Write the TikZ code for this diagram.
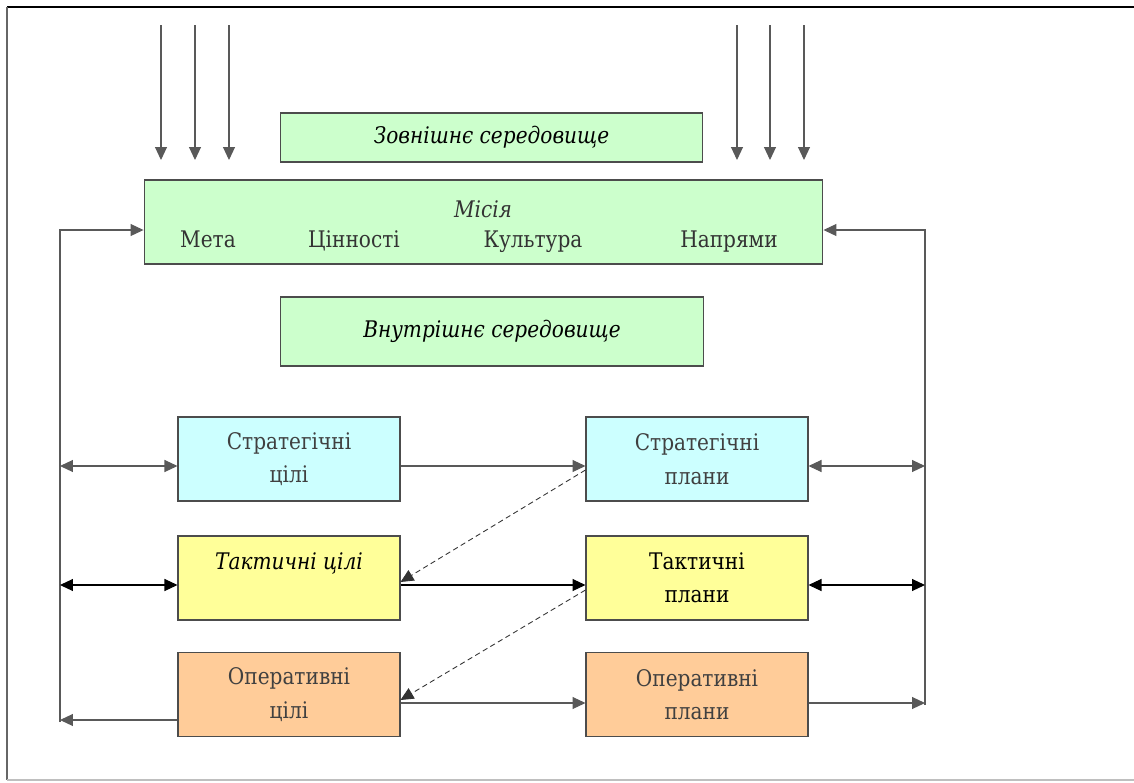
\documentclass[tikz,border=0pt]{standalone}
\usepackage{fontspec}
\setmainfont{DejaVu Serif}[FakeStretch=0.88]
\usetikzlibrary{arrows.meta}
\definecolor{boxgreen}{HTML}{CCFFCC}
\definecolor{boxcyan}{HTML}{CCFFFF}
\definecolor{boxyellow}{HTML}{FFFF99}
\definecolor{boxorange}{HTML}{FFCC99}
\tikzset{
  >={Triangle[length=2.6mm,width=2.4mm]},
  box/.style={draw=black!70, line width=0.6pt, inner sep=0pt, align=center,
    font=\fontsize{13}{19}\selectfont},
  wide/.style={box, minimum width=8.46cm, minimum height=0.98cm},
  goalbox/.style={box, minimum width=4.44cm, minimum height=1.68cm},
  lbl/.style={font=\fontsize{13}{19}\selectfont, inner sep=0pt, anchor=base, text=black!80},
  conn/.style={draw=black!65, line width=0.6pt},
}
\begin{document}
\begin{tikzpicture}[x=0.02cm,y=-0.02cm]
\useasboundingbox (0,0) rectangle (1134,782);

% frame
\draw[black, line width=1.2pt] (7,7) -- (1134,7);
\draw[black!60, line width=0.6pt] (7,7) -- (7,780);
\draw[black!25, line width=0.6pt] (7,780) -- (1134,780);

% boxes
\node[wide, fill=boxgreen] (outer) at (491.5,137.5) {\textit{Зовнішнє середовище}};
\node[box, fill=boxgreen, minimum width=13.58cm, minimum height=1.68cm] (mission) at (483.5,222) {};
\node[wide, fill=boxgreen, minimum height=1.38cm] (inner) at (492,331.5) {\textit{Внутрішнє середовище}};

\node[lbl] (misia) at (483,217) {\textit{Місія}};
\node[lbl] (meta) at (208,247) {Мета};
\node[lbl] (cinn) at (354,247) {Цінності};
\node[lbl] (kult) at (533,247) {Культура};
\node[lbl] (napr) at (729,247) {Напрями};

\node[goalbox, fill=boxcyan, text=black!75] (sg) at (289,459) {Стратегічні\\цілі};
\node[goalbox, fill=boxcyan, text=black!75] (sp) at (697,459) {Стратегічні\\плани};
\node[goalbox, fill=boxyellow] (tg) at (289,578) {};
\node[lbl, text=black] (tgtext) at (289,569) {\textit{Тактичні цілі}};
\node[goalbox, fill=boxyellow] (tp) at (697,578) {Тактичні\\плани};
\node[goalbox, fill=boxorange, text=black!75] (og) at (289,694.5) {Оперативні\\цілі};
\node[goalbox, fill=boxorange, text=black!75] (op) at (697,694.5) {Оперативні\\плани};

% incoming arrows
\foreach \x in {161,195,229,737,770,804}
  \draw[conn,->] (\x,25) -- (\x,160);

% feedback lines
\coordinate (lb) at (60,722);
\coordinate (lt) at (60,230);
\coordinate (rb) at (925,705);
\coordinate (rt) at (925,230);
\draw[conn,->] (lb) -- (lt) -- (lt -| mission.west);
\draw[conn,->] (rb) -- (rt) -- (rt -| mission.east);

% rows
\coordinate (r1) at (0,466);
\coordinate (r2) at (0,585);
\coordinate (r3) at (0,703);
\coordinate (r3b) at (0,720);

\draw[conn,<->] (r1 -| lt) -- (r1 -| sg.west);
\draw[conn,->] (r1 -| sg.east) -- (r1 -| sp.west);
\draw[conn,<->] (r1 -| sp.east) -- (r1 -| rt);

\draw[line width=0.6pt,<->] (r2 -| lt) -- (r2 -| tg.west);
\draw[line width=0.6pt,->] (r2 -| tg.east) -- (r2 -| tp.west);
\draw[line width=0.6pt,<->] (r2 -| tp.east) -- (r2 -| rt);

\draw[conn,->] (r3b -| og.west) -- (r3b -| lt);
\draw[conn,->] (r3 -| og.east) -- (r3 -| op.west);
\draw[conn,->] (r3 -| op.east) -- (r3 -| rt);

% diagonals
\draw[black!80, densely dashed, line width=0.5pt, ->] ([yshift=-0.22cm]sp.west) -- ([yshift=-0.08cm]tg.east);
\draw[black!80, densely dashed, line width=0.5pt, ->] ([yshift=-0.24cm]tp.west) -- ([yshift=-0.11cm]og.east);
\end{tikzpicture}
\end{document}
